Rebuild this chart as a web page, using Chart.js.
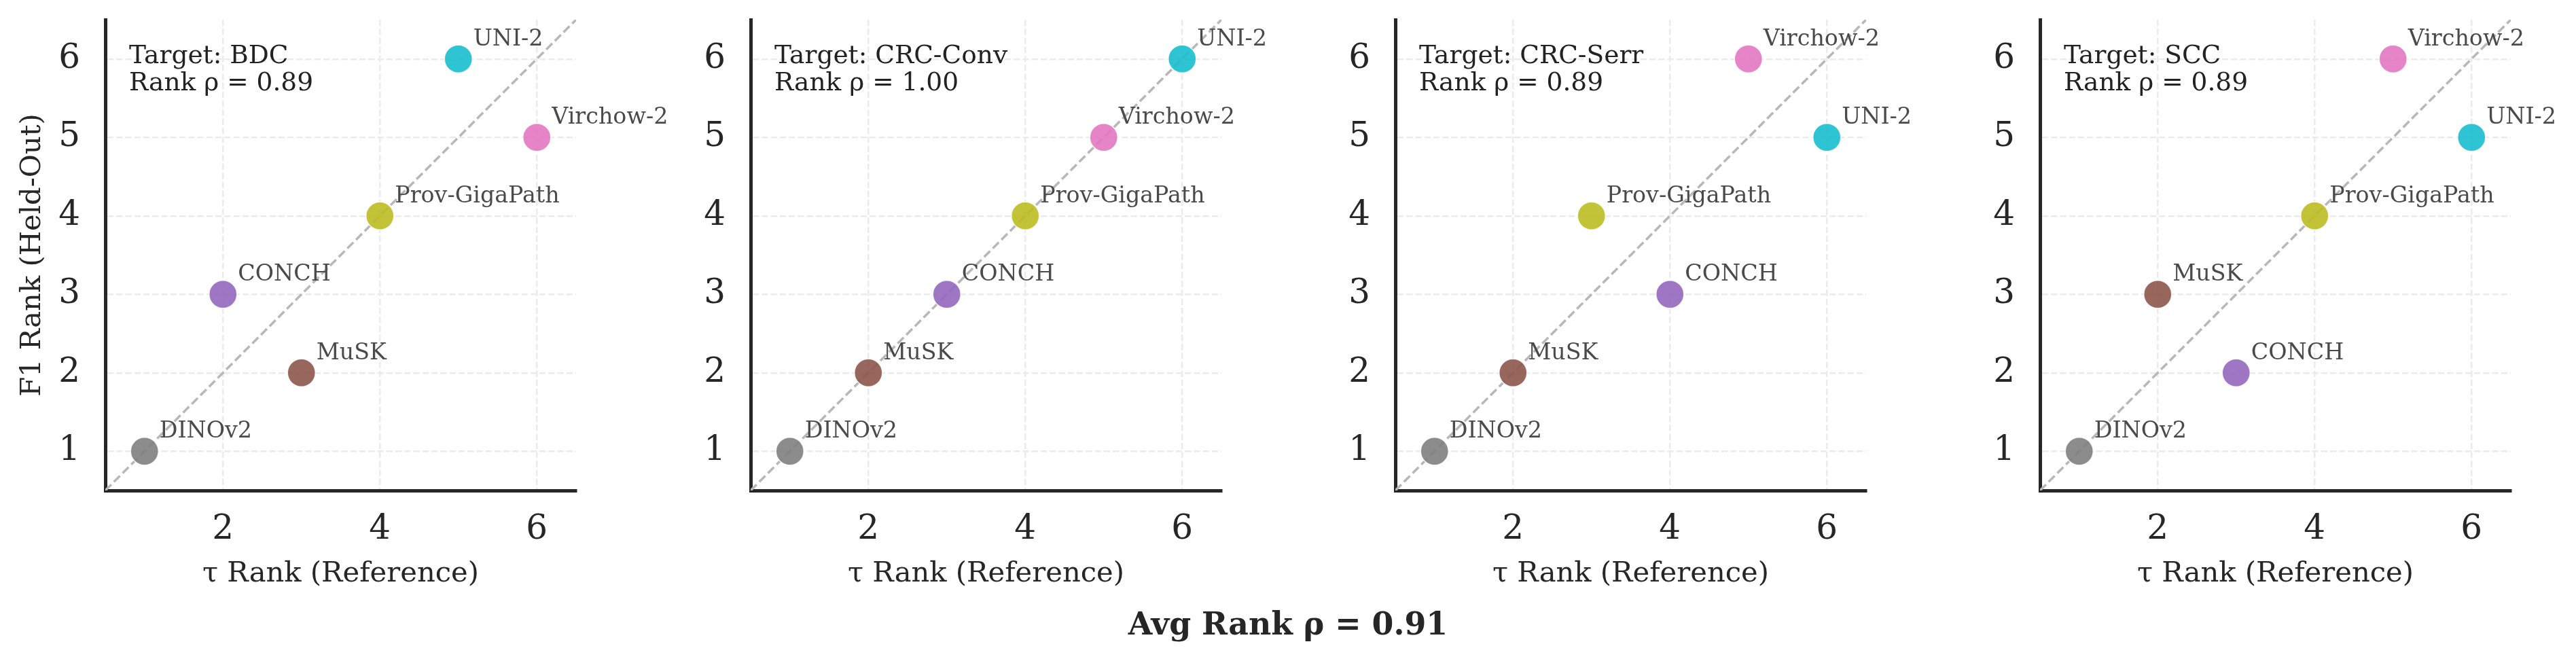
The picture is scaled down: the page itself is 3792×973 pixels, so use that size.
<!DOCTYPE html>
<html>
<head>
<meta charset="utf-8">
<script src="https://cdn.jsdelivr.net/npm/chart.js@4.4.1/dist/chart.umd.min.js"></script>
<style>
html,body{margin:0;padding:0;background:#ffffff;width:3792px;height:973px;overflow:hidden;}
.panel{position:absolute;top:0;}
#sup{position:absolute;left:0;top:0;pointer-events:none;}
</style>
</head>
<body>
<div id="wrap"></div>
<svg id="sup" width="3792" height="973"><text id="supText" x="1896" y="934" text-anchor="middle" font-family="DejaVu Serif" font-weight="bold" font-size="45.8" fill="#262626"></text></svg>
<script>
// ---------------- data ----------------
const models = ['DINOv2', 'MuSK', 'CONCH', 'Prov-GigaPath', 'Virchow-2', 'UNI-2'];
const modelColors = ['#7f7f7f', '#8c564b', '#9467bd', '#bcbd22', '#e377c2', '#17becf'];
const targets = ['BDC', 'CRC-Conv', 'CRC-Serr', 'SCC'];
const rhoValues = ['0.89', '1.00', '0.89', '0.89'];
const avgRho = '0.91';

// tau rank (reference) and F1 rank (held-out), in model order
const tauRankBDC     = [1, 3, 2, 4, 6, 5];
const f1RankBDC      = [1, 2, 3, 4, 5, 6];
const tauRankCRCConv = [1, 2, 3, 4, 5, 6];
const f1RankCRCConv  = [1, 2, 3, 4, 5, 6];
const tauRankCRCSerr = [1, 2, 4, 3, 5, 6];
const f1RankCRCSerr  = [1, 2, 3, 4, 6, 5];
const tauRankSCC     = [1, 2, 3, 4, 5, 6];
const f1RankSCC      = [1, 3, 2, 4, 6, 5];

const xTickValues = [2, 4, 6];
const yTickValues = [1, 2, 3, 4, 5, 6];
const axisMin = 0.5, axisMax = 6.5;
const diagX = [0.5, 6.5];
const diagY = [0.5, 6.5];

const xTitle = 'τ Rank (Reference)';
const yTitle = 'F1 Rank (Held-Out)';

// ---------------- layout ----------------
const panelLefts = [155, 1105, 2054, 3003];
const plotW = 693, plotTop = 29, plotBottom = 722, figH = 973, figW = 3792;
const leftSpace = 155;
const FONT = '"DejaVu Serif"';

function hexToRgba(hex, a) {
  const n = parseInt(hex.slice(1), 16);
  return `rgba(${(n >> 16) & 255},${(n >> 8) & 255},${n & 255},${a})`;
}

document.getElementById('supText').textContent = 'Avg Rank ρ = ' + avgRho;

const panels = [
  {target: targets[0], rho: rhoValues[0], tau: tauRankBDC, f1: f1RankBDC},
  {target: targets[1], rho: rhoValues[1], tau: tauRankCRCConv, f1: f1RankCRCConv},
  {target: targets[2], rho: rhoValues[2], tau: tauRankCRCSerr, f1: f1RankCRCSerr},
  {target: targets[3], rho: rhoValues[3], tau: tauRankSCC, f1: f1RankSCC}
];

const labelPlugin = {
  id: 'pointLabels',
  afterDatasetsDraw(chart) {
    const p = chart.options.plugins.pointLabels.panel;
    const ctx = chart.ctx;
    const xs = chart.scales.x, ys = chart.scales.y;
    ctx.save();
    ctx.textAlign = 'left';
    ctx.textBaseline = 'alphabetic';
    ctx.font = '33.3px ' + FONT;
    ctx.fillStyle = '#4a4a4a';
    models.forEach((m, i) => {
      const px = xs.getPixelForValue(p.tau[i]);
      const py = ys.getPixelForValue(p.f1[i]);
      ctx.fillText(m, px + 22, py - 20);
    });
    const a = chart.chartArea;
    ctx.font = '37.5px ' + FONT;
    ctx.fillStyle = '#222222';
    ctx.fillText('Target: ' + p.target, a.left + 35, a.top + 63.5);
    ctx.fillText('Rank ρ = ' + p.rho, a.left + 35, a.top + 103.5);
    ctx.restore();
  }
};

const wrap = document.getElementById('wrap');
panels.forEach((p, idx) => {
  const left = panelLefts[idx] - leftSpace;
  const cw = Math.min(1000, figW - left);
  const div = document.createElement('div');
  div.className = 'panel';
  div.style.left = left + 'px';
  div.style.width = cw + 'px';
  div.style.height = figH + 'px';
  const canvas = document.createElement('canvas');
  canvas.width = cw; canvas.height = figH;
  canvas.style.width = cw + 'px'; canvas.style.height = figH + 'px';
  div.appendChild(canvas);
  wrap.appendChild(div);

  const pts = p.tau.map((x, i) => ({x: x, y: p.f1[i]}));
  const diag = diagX.map((x, i) => ({x: x, y: diagY[i]}));

  new Chart(canvas.getContext('2d'), {
    type: 'scatter',
    data: {
      datasets: [
        {
          data: pts,
          backgroundColor: modelColors.map(c => hexToRgba(c, 0.9)),
          borderColor: 'rgba(255,255,255,0.85)',
          borderWidth: 1.5,
          pointRadius: 20.5,
          pointHoverRadius: 20.5,
          order: 0
        },
        {
          data: diag,
          showLine: true,
          borderColor: '#b8b8b8',
          borderWidth: 3.5,
          borderDash: [12.5, 5.5],
          pointRadius: 0,
          fill: false,
          order: 1
        }
      ]
    },
    options: {
      responsive: false,
      animation: false,
      events: [],
      devicePixelRatio: 1,
      layout: {
        autoPadding: false,
        padding: {left: 0, top: plotTop, right: cw - leftSpace - plotW, bottom: 0}
      },
      plugins: {
        legend: {display: false},
        tooltip: {enabled: false},
        pointLabels: {panel: p}
      },
      scales: {
        x: {
          type: 'linear',
          position: 'bottom',
          min: axisMin, max: axisMax,
          afterBuildTicks(s) { s.ticks = xTickValues.map(v => ({value: v})); },
          afterFit(s) { s.height = figH - plotBottom; s.paddingLeft = 0; s.paddingRight = 0; s.paddingTop = 0; s.paddingBottom = 0; },
          ticks: {
            padding: 28,
            color: '#262626',
            font: {family: 'DejaVu Serif', size: 50},
            maxRotation: 0,
            autoSkip: false,
            callback: v => String(v)
          },
          grid: {color: '#ebebeb', lineWidth: 2.5, drawTicks: false},
          border: {display: true, color: '#262626', width: 5, dash: [9.25, 4]},
          title: {
            display: true,
            text: xTitle,
            color: '#262626',
            font: {family: 'DejaVu Serif', size: 41.7},
            padding: {top: 0, bottom: 103}
          }
        },
        y: {
          type: 'linear',
          position: 'left',
          min: axisMin, max: axisMax,
          afterBuildTicks(s) { s.ticks = yTickValues.map(v => ({value: v})); },
          afterFit(s) { s.width = leftSpace; s.paddingLeft = 0; s.paddingRight = 0; s.paddingTop = 0; s.paddingBottom = 0; },
          ticks: {
            padding: 37,
            color: '#262626',
            font: {family: 'DejaVu Serif', size: 50},
            autoSkip: false,
            callback: v => String(v)
          },
          grid: {color: '#ebebeb', lineWidth: 2.5, drawTicks: false},
          border: {display: true, color: '#262626', width: 5, dash: [9.25, 4]},
          title: {
            display: idx === 0,
            text: yTitle,
            color: '#262626',
            font: {family: 'DejaVu Serif', size: 41.7},
            padding: {top: 23, bottom: 0}
          }
        }
      }
    },
    plugins: [labelPlugin]
  });
});
</script>
</body>
</html>
